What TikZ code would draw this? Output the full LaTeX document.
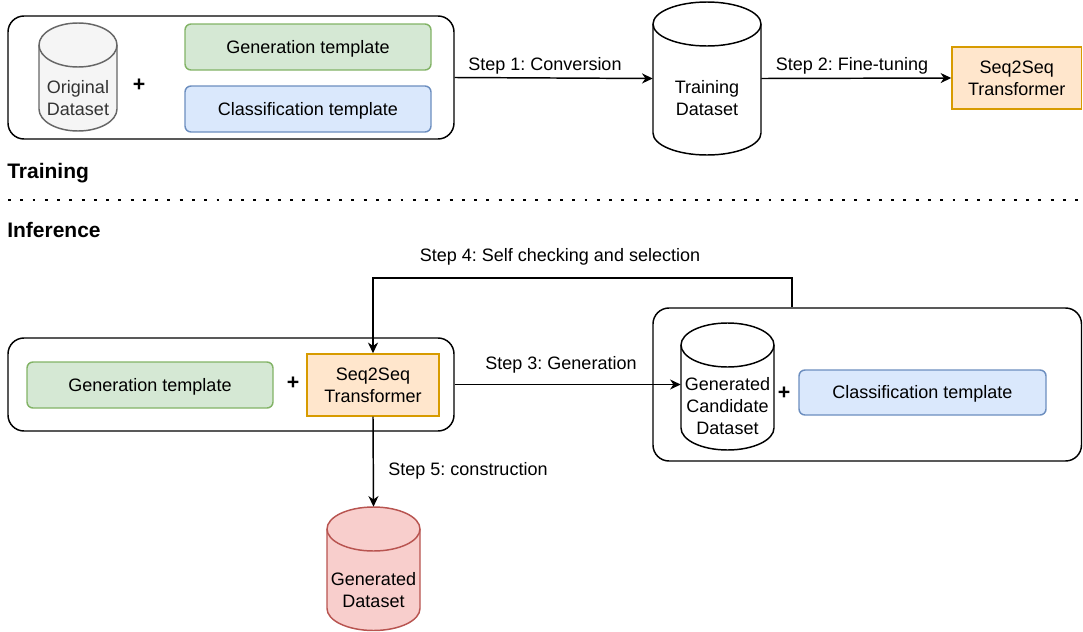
\documentclass[tikz,border=0pt]{standalone}
\usepackage{fontspec}
\setmainfont{Liberation Sans}
\frenchspacing
\usetikzlibrary{arrows.meta,calc}
\definecolor{grayfill}{HTML}{F5F5F5}
\definecolor{grayline}{HTML}{666666}
\definecolor{graytext}{HTML}{333333}
\definecolor{genfill}{HTML}{D5E8D4}
\definecolor{genline}{HTML}{82B366}
\definecolor{clsfill}{HTML}{DAE8FC}
\definecolor{clsline}{HTML}{6C8EBF}
\definecolor{seqfill}{HTML}{FFE6CC}
\definecolor{seqline}{HTML}{D79B00}
\definecolor{redfill}{HTML}{F8CECC}
\definecolor{redline}{HTML}{B85450}
\tikzset{
  boxat/.style n args={4}{at={({(#1+#3)/2},{(#2+#4)/2})},
    minimum width={(#3-#1)*0.75pt}, minimum height={(#4-#2)*0.75pt}},
  captext/.style={text height=9.7pt, text depth=0pt},
  container/.style={draw=black, rounded corners=12pt, line width=1.1pt, inner sep=0pt},
  tmpl/.style={captext, rounded corners=4.5pt, line width=1.1pt, inner sep=0pt},
  gentmpl/.style={tmpl, fill=genfill, draw=genline},
  clstmpl/.style={tmpl, fill=clsfill, draw=clsline},
  seqbox/.style={fill=seqfill, draw=seqline, line width=1.1pt, inner sep=0pt, align=center},
  flow/.style={-{Stealth[length=8pt,width=7.5pt,inset=2.5pt]}, line width=1.1pt},
  steplabel/.style={captext, inner sep=0pt},
  cyltext/.style={inner sep=0pt, align=center},
  sectionlabel/.style={font=\fontsize{15.75}{18}\selectfont\bfseries, text height=11.3pt, text depth=0pt, inner sep=0pt, anchor=west},
  plus/.style={font=\fontsize{16}{18}\selectfont\bfseries, inner sep=0pt},
  sepline/.style={line width=2.2pt, dash pattern=on 2.2pt off 7pt},
}
\newcommand\dbcyl[7]{%
  \pgfmathsetmacro\cylrx{(#4-#2)/2*0.75}%
  \filldraw[fill=#6,draw=#7,line width=1.1pt] (#2,#3+22) -- (#2,#5-22)
    arc[start angle=180,end angle=360,x radius=\cylrx pt,y radius=16.5pt]
    -- (#4,#3+22)
    arc[start angle=0,end angle=180,x radius=\cylrx pt,y radius=16.5pt] -- cycle;
  \draw[draw=#7,line width=1.1pt] (#2,#3+22)
    arc[start angle=180,end angle=360,x radius=\cylrx pt,y radius=16.5pt];
  \node[boxat={#2}{#3}{#4}{#5}, inner sep=0pt] (#1) {};
}
\begin{document}
\begin{tikzpicture}[x=0.75pt,y=-0.75pt,font=\fontsize{13.5}{16.5}\selectfont]
\useasboundingbox (0,0) rectangle (1083,632);

% ---------- Training ----------
\node[container, boxat={8}{16}{454}{139}] (topbox) {};
\dbcyl{origdb}{39}{23}{117}{131}{grayfill}{grayline}
\node[cyltext, text=graytext] (origtxt) at (78,98.5) {Original\\Dataset};
\node[plus] (plus1) at (139,85) {+};
\node[gentmpl, boxat={185}{24}{431}{70}] (gen1) {Generation template};
\node[clstmpl, boxat={185}{86}{431}{132}] (cls1) {Classification template};

\dbcyl{traindb}{653}{2}{761}{155}{white}{black}
\node[cyltext] (traintxt) at (707,98.5) {Training\\Dataset};

\node[seqbox, boxat={952}{47}{1081.5}{109}] (seq1) {Seq2Seq\\Transformer};

\draw[flow] (topbox.east) -- (traindb.west);
\node[steplabel] (s1lab) at (545,64) {Step 1: Conversion};
\draw[flow] (traindb.east) -- (seq1.west);
\node[steplabel] (s2lab) at (852,64) {Step 2: Fine-tuning};

% ---------- separator ----------
\node[sectionlabel] (trainlab) at (7,170.5) {Training};
\coordinate (sepL) at (8,200);
\coordinate (sepR) at (1083,200);
\draw[sepline] (sepL) -- (sepR);
\node[sectionlabel] (inflab) at (7,230) {Inference};

% ---------- Inference ----------
\node[container, boxat={8}{338}{454}{431}] (lbox) {};
\node[gentmpl, boxat={27}{362}{273}{408}] (gen2) {Generation template};
\node[plus] (plus2) at (293,383) {+};
\node[seqbox, boxat={307}{354}{439}{416}] (seq2) {Seq2Seq\\Transformer};

\node[container, boxat={653}{308}{1081.5}{461}] (rbox) {};
\dbcyl{gencand}{681}{323}{774}{450}{white}{black}
\node[cyltext] (gencandtxt) at (727.5,406.5) {Generated\\Candidate\\Dataset};
\node[plus] (plus3) at (784,393) {+};
\node[clstmpl, boxat={799}{370}{1046}{415}] (cls2) {Classification template};

\dbcyl{gends}{327}{507}{420}{630.5}{redfill}{redline}
\node[cyltext] (gendstxt) at (373.5,590) {Generated\\Dataset};

% Step 3
\draw[flow] (lbox.east) -- (lbox.east -| gencand.west);
\node[steplabel] (s3lab) at (561,363) {Step 3: Generation};

% Step 4
\coordinate (s4r) at (792,278);
\coordinate (s4l) at (373,278);
\draw[flow] (s4r |- rbox.north) -- (s4r) -- (s4l) -- (seq2.north);
\node[steplabel] (s4lab) at (560,255) {Step 4: Self checking and selection};

% Step 5
\draw[flow] (seq2.south) -- (gends.north);
\node[steplabel] (s5lab) at (468,469) {Step 5: construction};
\end{tikzpicture}
\end{document}
